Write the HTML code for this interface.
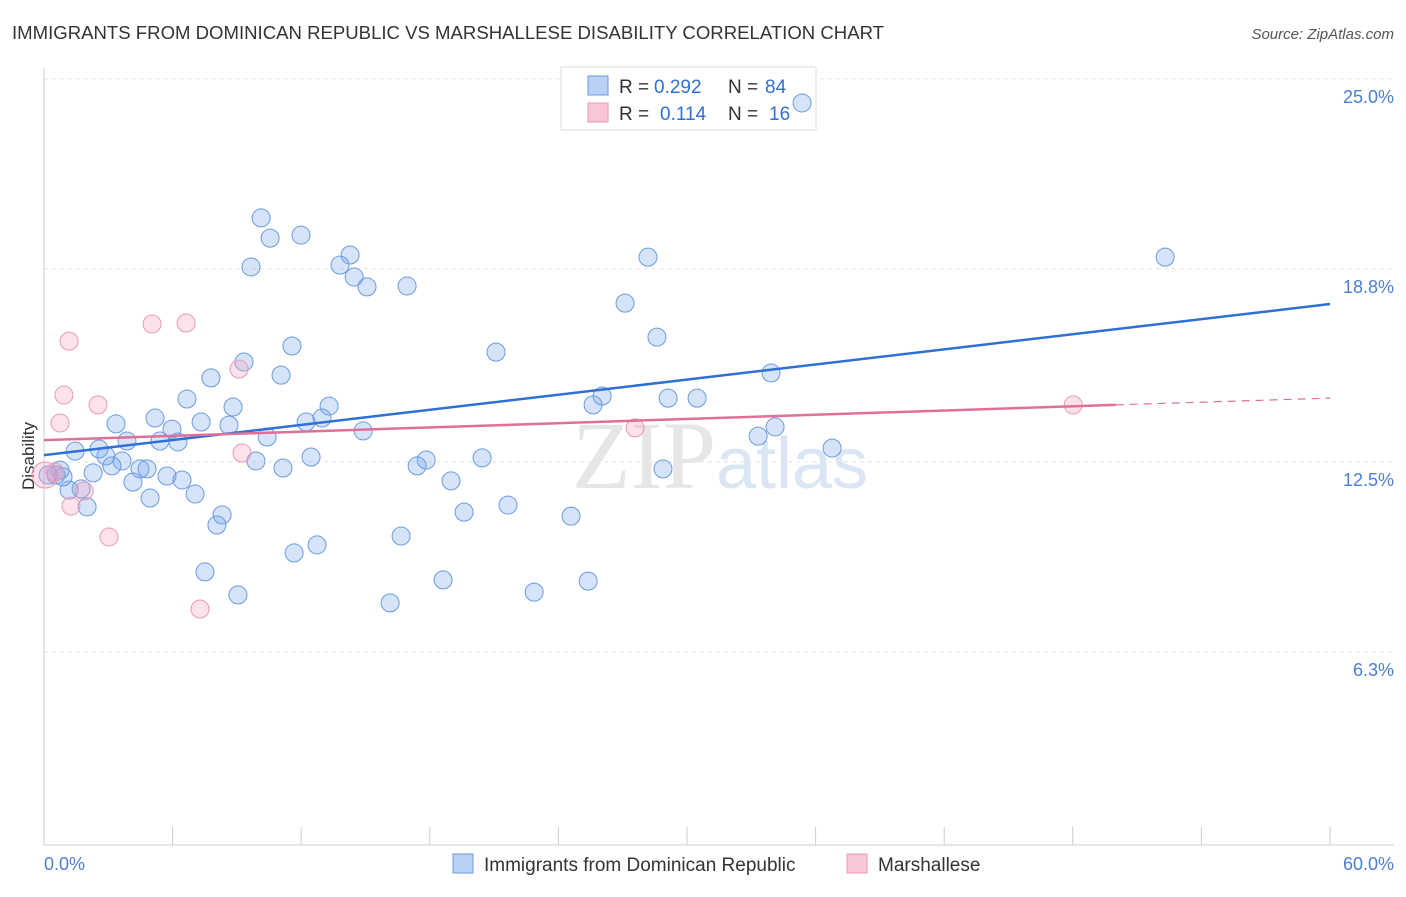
<!DOCTYPE html>
<html><head><meta charset="utf-8"><style>
body{margin:0;background:#fff;font-family:"Liberation Sans",sans-serif}
</style></head><body>
<svg width="1406" height="892" xmlns="http://www.w3.org/2000/svg" style="font-family:'Liberation Sans',sans-serif">
<text x="12" y="39" font-size="18" fill="#333" textLength="872" lengthAdjust="spacingAndGlyphs">IMMIGRANTS FROM DOMINICAN REPUBLIC VS MARSHALLESE DISABILITY CORRELATION CHART</text>
<text x="1394" y="39" font-size="15" fill="#555" text-anchor="end" font-style="italic">Source: ZipAtlas.com</text>
<text x="720" y="488" font-size="96" text-anchor="middle" fill="#e6e6e6" font-family="'Liberation Serif',serif">ZIP<tspan fill="#dbe6f5" font-family="'Liberation Sans',sans-serif" font-size="72">atlas</tspan></text>
<g id="grid"></g><g id="ticks"></g>
<line x1="44" y1="845" x2="1394" y2="845" stroke="#ccc"/>
<line x1="44" y1="68" x2="44" y2="845" stroke="#ccc"/>
<text transform="translate(34,456) rotate(-90)" font-size="17" fill="#333" text-anchor="middle">Disability</text>
<text x="44" y="870" font-size="18" fill="#4a7fd4">0.0%</text>
<text x="1394" y="870" font-size="18" fill="#4a7fd4" text-anchor="end">60.0%</text>
<g>
<rect x="561" y="67" width="255" height="63" fill="#fff" stroke="#ddd"/>
<rect x="588" y="76" width="20" height="19" fill="#b9d1f5" stroke="#6a9be0"/>
<rect x="588" y="103" width="20" height="19" fill="#f9c6d6" stroke="#e89ab5"/>
<text x="619" y="93" font-size="19" fill="#333">R =</text>
<text x="654" y="93" font-size="19" fill="#2f6fd6">0.292</text>
<text x="728" y="93" font-size="19" fill="#333">N =</text>
<text x="765" y="93" font-size="19" fill="#2f6fd6">84</text>
<text x="619" y="120" font-size="19" fill="#333">R =</text>
<text x="660" y="120" font-size="19" fill="#2f6fd6">0.114</text>
<text x="728" y="120" font-size="19" fill="#333">N =</text>
<text x="769" y="120" font-size="19" fill="#2f6fd6">16</text>
</g>
<g id="pts"></g><g id="lines"></g>
<g>
<rect x="453" y="854" width="20" height="19" fill="#b9d1f5" stroke="#6a9be0"/>
<text x="484" y="871" font-size="19" fill="#333">Immigrants from Dominican Republic</text>
<rect x="847" y="854" width="20" height="19" fill="#f9c6d6" stroke="#e89ab5"/>
<text x="878" y="871" font-size="19" fill="#333">Marshallese</text>
</g>
</svg>
<script>
const blueX=[35.37,10.13,10.55,11.99,9.66,14.28,13.81,14.47,15.07,16.94,28.18,52.31,27.11,28.6,11.57,21.09,9.33,11.06,7.79,33.92,26.04,25.62,29.12,30.47,6.67,8.82,13.3,12.97,12.23,5.18,3.36,7.33,8.63,5.97,14.89,10.41,6.25,5.41,3.87,33.32,34.11,36.77,1.45,2.57,2.89,3.64,9.89,12.46,17.83,20.44,17.41,11.15,28.88,0.75,0.56,2.29,3.17,4.48,4.81,5.74,6.44,4.15,18.99,1.17,1.73,7.05,4.95,2.01,21.65,19.6,8.31,24.59,8.07,16.66,12.74,11.67,7.51,18.62,25.39,9.05,22.87,16.15,0.19,0.89];
const blueY=[24.21,20.46,19.8,19.9,18.86,19.25,18.92,18.53,18.21,18.24,19.18,19.18,17.68,16.57,16.28,16.08,15.76,15.33,15.24,15.4,14.65,14.36,14.58,14.58,14.55,14.29,14.32,13.93,13.8,13.93,13.74,13.8,13.7,13.57,13.51,13.31,13.15,13.18,13.18,13.34,13.64,12.95,12.85,12.92,12.69,12.53,12.53,12.66,12.56,12.63,12.37,12.3,12.27,12.23,12.07,12.14,12.37,12.27,12.27,12.04,11.91,11.84,11.88,11.58,11.62,11.45,11.32,11.03,11.09,10.86,10.77,10.73,10.44,10.08,9.79,9.53,8.91,8.65,8.61,8.16,8.25,7.9,12.07,12.01];
const pinkX=[0.05,0.51,1.17,0.93,0.75,2.52,5.04,6.63,9.1,1.87,1.26,3.03,7.28,9.24,27.58,48.02];
const pinkY=[12.07,12.17,16.44,14.68,13.77,14.36,17.0,17.03,15.53,11.55,11.06,10.05,7.7,12.79,13.61,14.36];
const yTicks=[25.0,18.8,12.5,6.3];
const yTickLabels=["25.0%","18.8%","12.5%","6.3%"];
const xTicks=[0,6,12,18,24,30,36,42,48,54,60];
const blueTrend=[12.72,17.65];
const pinkTrend=[13.21,14.36,14.58];
const sx=v=>44+v*21.433, sy=v=>845-v*30.65;
const NS="http://www.w3.org/2000/svg";
function mk(t,a,p){const e=document.createElementNS(NS,t);for(const k in a)e.setAttribute(k,a[k]);p.appendChild(e);return e;}
const grid=document.getElementById('grid');
yTicks.forEach((v,i)=>{
 const l=mk('line',{x1:44,x2:1394,y1:sy(v),y2:sy(v),stroke:'#e2e2e2','stroke-dasharray':'4,4'},grid);
 
 
 const t=mk('text',{x:1394,y:sy(v)+24,'font-size':18,fill:'#4a7fd4','text-anchor':'end'},grid);
 t.textContent=yTickLabels[i];
 
 
});
const tk=document.getElementById('ticks');
xTicks.forEach(v=>{
 const l=mk('line',{x1:sx(v),x2:sx(v),y1:827,y2:845,stroke:'#ccc'},tk);
 
 
});
const pts=document.getElementById('pts');
blueX.forEach((x,i)=>{
 const c=mk('circle',{cx:sx(x),cy:sy(blueY[i]),r:9,fill:'rgba(120,165,235,0.3)',stroke:'#6a9be0','stroke-width':1},pts);
 
 
});
pinkX.forEach((x,i)=>{
 const c=mk('circle',{cx:sx(x),cy:sy(pinkY[i]),r:i==0?13:9,fill:'rgba(245,160,190,0.3)',stroke:'#e89ab5','stroke-width':1},pts);
 
 
});
const ln=document.getElementById('lines');
const b=mk('line',{x1:sx(0),y1:sy(blueTrend[0]),x2:sx(60),y2:sy(blueTrend[1]),stroke:'#2f6fd6','stroke-width':2.5},ln);


const p=mk('line',{x1:sx(0),y1:sy(pinkTrend[0]),x2:sx(50),y2:sy(pinkTrend[1]),stroke:'#e0709a','stroke-width':2.5},ln);


const pd=mk('line',{x1:sx(50),y1:sy(pinkTrend[1]),x2:sx(60),y2:sy(pinkTrend[2]),stroke:'#e0709a','stroke-width':1.2,'stroke-dasharray':'8,6'},ln);


</script>
</body></html>
